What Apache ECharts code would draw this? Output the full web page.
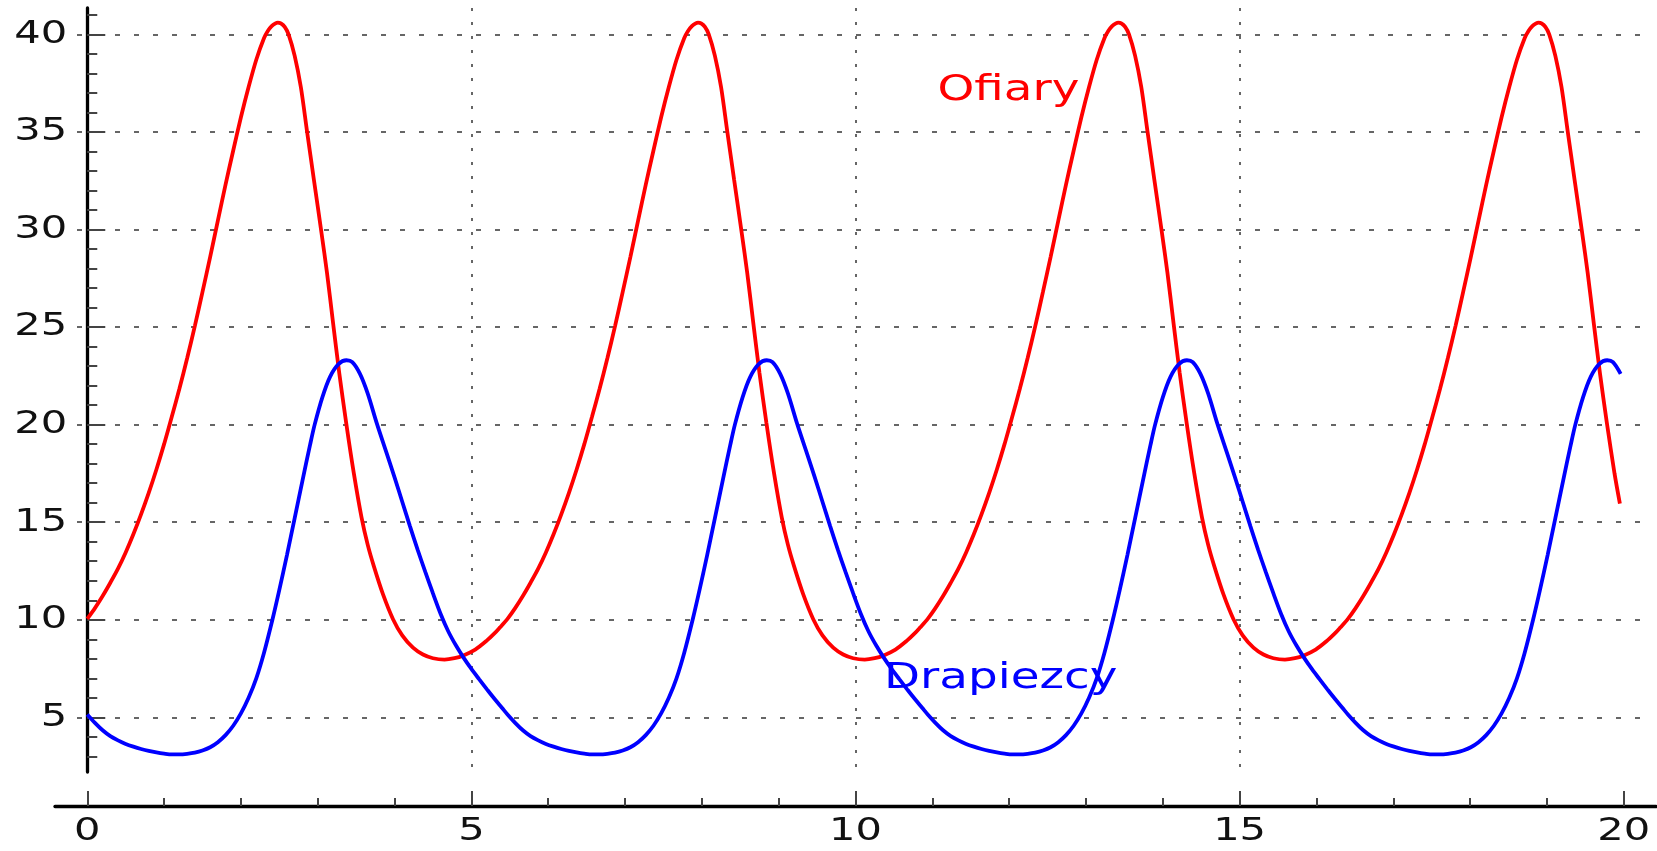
<!DOCTYPE html>
<html><head><meta charset="utf-8">
<script src="https://cdn.jsdelivr.net/npm/echarts@6/dist/echarts.min.js"></script>
<style>html,body{margin:0;padding:0;background:#fff}#c{width:1657px;height:851px}</style>
</head><body><div id="c"></div>
<script>
// Prey ("Ofiary"), values
const preyTime = [
  0, 0.1, 0.2, 0.3, 0.4, 0.5, 0.6, 0.7, 0.8, 0.9, 1.0, 1.1, 1.2, 1.3, 1.4, 1.5, 1.6, 1.7, 1.8, 1.9, 2.0, 2.1, 2.2, 2.3,
  2.35, 2.4, 2.45, 2.48, 2.52, 2.57, 2.62, 2.7, 2.78, 2.86, 2.95, 3.05, 3.12, 3.2, 3.28, 3.37,
  3.47, 3.57, 3.65, 3.73, 3.85, 3.98, 4.1, 4.24, 4.37, 4.5, 4.65, 4.78, 4.89, 5.05, 5.2, 5.3, 5.37,
  5.47, 5.57, 5.67, 5.77, 5.87, 5.97, 6.07, 6.17, 6.27, 6.37, 6.47, 6.57, 6.67, 6.77, 6.87, 6.97, 7.07, 7.17, 7.27, 7.37, 7.47, 7.57, 7.67, 7.77,
  7.82, 7.87, 7.92, 7.95, 7.99, 8.04, 8.09, 8.17, 8.25, 8.33, 8.42, 8.52, 8.59, 8.67, 8.75, 8.84,
  8.94, 9.04, 9.12, 9.20, 9.32, 9.45, 9.57, 9.71, 9.84, 9.97, 10.12, 10.25, 10.36, 10.52, 10.67, 10.77, 10.84,
  10.94, 11.04, 11.14, 11.24, 11.34, 11.44, 11.54, 11.64, 11.74, 11.84, 11.94, 12.04, 12.14, 12.24, 12.34, 12.44, 12.54, 12.64, 12.74, 12.84, 12.94, 13.04, 13.14, 13.24,
  13.29, 13.34, 13.39, 13.42, 13.46, 13.51, 13.56, 13.64, 13.72, 13.80, 13.89, 13.99, 14.06, 14.14, 14.22, 14.31,
  14.41, 14.51, 14.59, 14.67, 14.79, 14.92, 15.04, 15.18, 15.31, 15.44, 15.59, 15.72, 15.83, 15.99, 16.14, 16.24, 16.31,
  16.41, 16.51, 16.61, 16.71, 16.81, 16.91, 17.01, 17.11, 17.21, 17.31, 17.41, 17.51, 17.61, 17.71, 17.81, 17.91, 18.01, 18.11, 18.21, 18.31, 18.41, 18.51, 18.61, 18.71,
  18.76, 18.81, 18.86, 18.89, 18.93, 18.98, 19.03, 19.11, 19.19, 19.27, 19.36, 19.46, 19.53, 19.61, 19.69, 19.78,
  19.88, 19.95
];
const preyCount = [
  10.05, 10.6, 11.22, 11.9, 12.62, 13.45, 14.38, 15.4, 16.5, 17.7, 19.0, 20.4, 21.85, 23.4, 25.05, 26.8, 28.6, 30.45, 32.3, 34.05, 35.75, 37.3, 38.7, 39.8,
  40.17, 40.42, 40.56, 40.6, 40.56, 40.38, 40.0, 38.9, 37.3, 35.05, 32.55, 29.8, 27.8, 25.2, 22.65, 20.1,
  17.5, 15.25, 13.85, 12.75, 11.3, 10.03, 9.2, 8.57, 8.22, 8.03, 7.96, 8.03, 8.16, 8.47, 8.93, 9.3, 9.6,
  10.05, 10.6, 11.22, 11.9, 12.62, 13.45, 14.38, 15.4, 16.5, 17.7, 19.0, 20.4, 21.85, 23.4, 25.05, 26.8, 28.6, 30.45, 32.3, 34.05, 35.75, 37.3, 38.7, 39.8,
  40.17, 40.42, 40.56, 40.6, 40.56, 40.38, 40.0, 38.9, 37.3, 35.05, 32.55, 29.8, 27.8, 25.2, 22.65, 20.1,
  17.5, 15.25, 13.85, 12.75, 11.3, 10.03, 9.2, 8.57, 8.22, 8.03, 7.96, 8.03, 8.16, 8.47, 8.93, 9.3, 9.6,
  10.05, 10.6, 11.22, 11.9, 12.62, 13.45, 14.38, 15.4, 16.5, 17.7, 19.0, 20.4, 21.85, 23.4, 25.05, 26.8, 28.6, 30.45, 32.3, 34.05, 35.75, 37.3, 38.7, 39.8,
  40.17, 40.42, 40.56, 40.6, 40.56, 40.38, 40.0, 38.9, 37.3, 35.05, 32.55, 29.8, 27.8, 25.2, 22.65, 20.1,
  17.5, 15.25, 13.85, 12.75, 11.3, 10.03, 9.2, 8.57, 8.22, 8.03, 7.96, 8.03, 8.16, 8.47, 8.93, 9.3, 9.6,
  10.05, 10.6, 11.22, 11.9, 12.62, 13.45, 14.38, 15.4, 16.5, 17.7, 19.0, 20.4, 21.85, 23.4, 25.05, 26.8, 28.6, 30.45, 32.3, 34.05, 35.75, 37.3, 38.7, 39.8,
  40.17, 40.42, 40.56, 40.6, 40.56, 40.38, 40.0, 38.9, 37.3, 35.05, 32.55, 29.8, 27.8, 25.2, 22.65, 20.1,
  17.5, 15.95
];
// Predators ("Drapiezcy"), values
const predTime = [
  0, 0.1, 0.2, 0.3, 0.4, 0.5, 0.6, 0.7, 0.8, 0.9, 1.0, 1.1, 1.2, 1.3, 1.4, 1.5, 1.6, 1.7, 1.8, 1.9, 2.0, 2.1, 2.2, 2.3,
  2.41, 2.5, 2.6, 2.7, 2.8, 2.9, 2.96, 3.06, 3.16, 3.27, 3.374, 3.45, 3.55, 3.65, 3.77,
  3.9, 4.0, 4.1, 4.2, 4.3, 4.4, 4.5, 4.6, 4.7, 4.8, 4.9, 5.0, 5.1, 5.2, 5.3, 5.4,
  5.47, 5.57, 5.67, 5.77, 5.87, 5.97, 6.07, 6.17, 6.27, 6.37, 6.47, 6.57, 6.67, 6.77, 6.87, 6.97, 7.07, 7.17, 7.27, 7.37, 7.47, 7.57, 7.67, 7.77,
  7.88, 7.97, 8.07, 8.17, 8.27, 8.37, 8.43, 8.53, 8.63, 8.74, 8.844, 8.92, 9.02, 9.12, 9.24,
  9.37, 9.47, 9.57, 9.67, 9.77, 9.87, 9.97, 10.07, 10.17, 10.27, 10.37, 10.47, 10.57, 10.67, 10.77, 10.87,
  10.94, 11.04, 11.14, 11.24, 11.34, 11.44, 11.54, 11.64, 11.74, 11.84, 11.94, 12.04, 12.14, 12.24, 12.34, 12.44, 12.54, 12.64, 12.74, 12.84, 12.94, 13.04, 13.14, 13.24,
  13.35, 13.44, 13.54, 13.64, 13.74, 13.84, 13.90, 14.00, 14.10, 14.21, 14.314, 14.39, 14.49, 14.59, 14.71,
  14.84, 14.94, 15.04, 15.14, 15.24, 15.34, 15.44, 15.54, 15.64, 15.74, 15.84, 15.94, 16.04, 16.14, 16.24, 16.34,
  16.41, 16.51, 16.61, 16.71, 16.81, 16.91, 17.01, 17.11, 17.21, 17.31, 17.41, 17.51, 17.61, 17.71, 17.81, 17.91, 18.01, 18.11, 18.21, 18.31, 18.41, 18.51, 18.61, 18.71,
  18.82, 18.91, 19.01, 19.11, 19.21, 19.31, 19.37, 19.47, 19.57, 19.68, 19.784, 19.86, 19.96
];
const predCount = [
  5.15, 4.72, 4.34, 4.04, 3.82, 3.64, 3.5, 3.38, 3.28, 3.2, 3.14, 3.1, 3.1, 3.13, 3.19, 3.3, 3.47, 3.73, 4.09, 4.57, 5.2, 6.0, 7.0, 8.3,
  10.0, 11.53, 13.33, 15.21, 17.11, 18.96, 20.0, 21.4, 22.45, 23.1, 23.3, 23.2, 22.6, 21.6, 20.05,
  18.5, 17.3, 16.05, 14.8, 13.6, 12.45, 11.35, 10.3, 9.4, 8.68, 8.05, 7.48, 6.96, 6.45, 5.95, 5.48,
  5.15, 4.72, 4.34, 4.04, 3.82, 3.64, 3.5, 3.38, 3.28, 3.2, 3.14, 3.1, 3.1, 3.13, 3.19, 3.3, 3.47, 3.73, 4.09, 4.57, 5.2, 6.0, 7.0, 8.3,
  10.0, 11.53, 13.33, 15.21, 17.11, 18.96, 20.0, 21.4, 22.45, 23.1, 23.3, 23.2, 22.6, 21.6, 20.05,
  18.5, 17.3, 16.05, 14.8, 13.6, 12.45, 11.35, 10.3, 9.4, 8.68, 8.05, 7.48, 6.96, 6.45, 5.95, 5.48,
  5.15, 4.72, 4.34, 4.04, 3.82, 3.64, 3.5, 3.38, 3.28, 3.2, 3.14, 3.1, 3.1, 3.13, 3.19, 3.3, 3.47, 3.73, 4.09, 4.57, 5.2, 6.0, 7.0, 8.3,
  10.0, 11.53, 13.33, 15.21, 17.11, 18.96, 20.0, 21.4, 22.45, 23.1, 23.3, 23.2, 22.6, 21.6, 20.05,
  18.5, 17.3, 16.05, 14.8, 13.6, 12.45, 11.35, 10.3, 9.4, 8.68, 8.05, 7.48, 6.96, 6.45, 5.95, 5.48,
  5.15, 4.72, 4.34, 4.04, 3.82, 3.64, 3.5, 3.38, 3.28, 3.2, 3.14, 3.1, 3.1, 3.13, 3.19, 3.3, 3.47, 3.73, 4.09, 4.57, 5.2, 6.0, 7.0, 8.3,
  10.0, 11.53, 13.33, 15.21, 17.11, 18.96, 20.0, 21.4, 22.45, 23.1, 23.3, 23.2, 22.6
];
const xTickValues = [0, 5, 10, 15, 20];
const yTickValues = [5, 10, 15, 20, 25, 30, 35, 40];
const seriesNames = ['Ofiary', 'Drapiezcy'];
const labelAnchors = [[11.99, 37.1], [11.89, 6.98]];

const FONT = '"DejaVu Sans"';
const chart = echarts.init(document.getElementById('c'), null, {renderer: 'canvas'});
const tickStyle = {color: '#444', width: 2};
const option = {
  animation: false,
  backgroundColor: '#ffffff',
  grid: [
    {left: 55, right: 1, top: 8, bottom: 79, outerBoundsMode: 'none', containLabel: false},
    {left: 77, right: 14, top: 8, bottom: 79, outerBoundsMode: 'none', containLabel: false}
  ],
  xAxis: [
    {gridIndex: 0, type: 'value', min: -0.42, max: 20.42, splitNumber: 4, minInterval: 5, maxInterval: 5,
     position: 'bottom', offset: 34,
     axisLine: {onZero: false, lineStyle: {color: '#000', width: 3.3}},
     axisTick: {inside: true, length: 15, lineStyle: tickStyle, customValues: xTickValues},
     minorTick: {show: true, splitNumber: 5, length: 8, lineStyle: tickStyle},
     axisLabel: {show: false},
     splitLine: {show: true, showMinLine: false, showMaxLine: false,
                 lineStyle: {color: '#666', width: 2, type: [3, 11]}},
     minorSplitLine: {show: false}},
    {gridIndex: 1, type: 'value', min: 0, max: 1, show: false}
  ],
  yAxis: [
    {gridIndex: 0, type: 'value', min: 2.2, max: 41.35, splitNumber: 8, minInterval: 5, maxInterval: 5,
     axisLine: {show: true, onZero: true, lineStyle: {color: '#000', width: 3.3}},
     axisTick: {inside: true, length: 18, lineStyle: tickStyle, customValues: yTickValues},
     minorTick: {show: true, splitNumber: 5, length: 10, lineStyle: tickStyle},
     axisLabel: {show: false},
     splitLine: {show: false}},
    {gridIndex: 1, type: 'value', min: 2.2, max: 41.35, splitNumber: 8, minInterval: 5, maxInterval: 5,
     axisLine: {show: false}, axisTick: {show: false}, axisLabel: {show: false},
     splitLine: {show: true, showMinLine: false, showMaxLine: false,
                 lineStyle: {color: '#666', width: 2, type: [5, 14]}}}
  ],
  series: [
    {name: seriesNames[0], type: 'line', xAxisIndex: 0, yAxisIndex: 0, showSymbol: false,
     smooth: 0.3,
     lineStyle: {color: '#ff0000', width: 3.8}, itemStyle: {color: '#ff0000'},
     data: preyTime.map((t, i) => [t, preyCount[i]])},
    {name: seriesNames[1], type: 'line', xAxisIndex: 0, yAxisIndex: 0, showSymbol: false,
     smooth: 0.3,
     lineStyle: {color: '#0000ff', width: 3.8}, itemStyle: {color: '#0000ff'},
     data: predTime.map((t, i) => [t, predCount[i]])}
  ]
};
chart.setOption(option);

const colors = ['#ff0000', '#0000ff'];
const graphics = [];
labelAnchors.forEach((a, i) => {
  const p = chart.convertToPixel({gridIndex: 0}, a);
  graphics.push({type: 'text', x: p[0], y: p[1], scaleX: 1.3, z: 100,
    style: {text: seriesNames[i], fill: colors[i], font: '36px ' + FONT, align: 'center', verticalAlign: 'middle'}});
});
const xAxisPixelY = chart.convertToPixel({gridIndex: 0}, [0, 2.2])[1] + 34;
xTickValues.forEach(v => {
  const p = chart.convertToPixel({gridIndex: 0}, [v, 2.2]);
  graphics.push({type: 'text', x: p[0], y: xAxisPixelY + 26, scaleX: 1.3, z: 100,
    style: {text: String(v), fill: '#111', font: '32px ' + FONT, align: 'center', verticalAlign: 'middle'}});
});
yTickValues.forEach(v => {
  const p = chart.convertToPixel({gridIndex: 0}, [0, v]);
  graphics.push({type: 'text', x: p[0] - 20, y: p[1], scaleX: 1.3, z: 100,
    style: {text: String(v), fill: '#111', font: '32px ' + FONT, align: 'right', verticalAlign: 'middle'}});
});
chart.setOption({graphic: graphics});
</script></body></html>
